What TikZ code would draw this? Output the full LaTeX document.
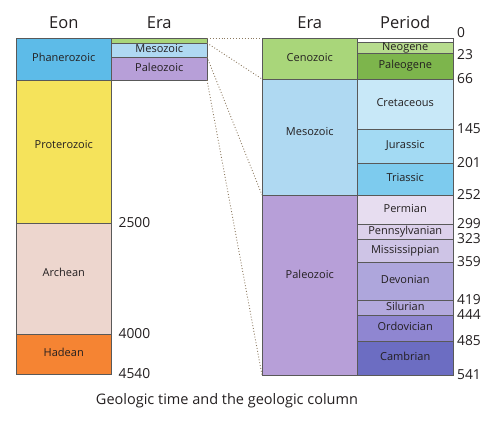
\documentclass[tikz,border=0pt]{standalone}
\usepackage{fontspec}
\setmainfont{Open Sans}
\usepackage{xcolor}
\usepackage{tikz}
\usetikzlibrary{positioning}

\definecolor{cPhan}{HTML}{5DBBE8}
\definecolor{cProt}{HTML}{F5E35B}
\definecolor{cArch}{HTML}{EDD6CE}
\definecolor{cHade}{HTML}{F58433}
\definecolor{cCeno}{HTML}{A9D67A}
\definecolor{cMeso}{HTML}{AFD9F2}
\definecolor{cPale}{HTML}{B79FD8}
\definecolor{cNeog}{HTML}{B7DC8E}
\definecolor{cPalg}{HTML}{7DB54C}
\definecolor{cCret}{HTML}{C8E8F8}
\definecolor{cJura}{HTML}{A3DAF3}
\definecolor{cTria}{HTML}{7DCBEE}
\definecolor{cPerm}{HTML}{E7DDF0}
\definecolor{cPenn}{HTML}{DCD0EB}
\definecolor{cMiss}{HTML}{CEC4E6}
\definecolor{cDevo}{HTML}{AEA6DC}
\definecolor{cSilu}{HTML}{B3A9DD}
\definecolor{cOrdo}{HTML}{8F86D1}
\definecolor{cCamb}{HTML}{6C6DC2}
\definecolor{cDots}{HTML}{8C7A60}
\definecolor{cText}{HTML}{231F20}

\begin{document}
\begin{tikzpicture}[x=1pt,y=-1pt,text=cText,
  font=\fontsize{11}{12}\selectfont,
  box/.style={draw=black!65,line width=0.8pt,inner sep=0pt,outer sep=0pt,
    minimum width=95.5pt,text height=7pt,text depth=2pt},
  thin/.style={text height=0pt,text depth=0pt},
  raised/.style={text depth=#1},
  hd/.style={font=\fontsize{16.5}{18}\selectfont},
  num/.style={font=\fontsize{13.8}{15}\selectfont,anchor=west,inner sep=0pt,xshift=4pt},
  dots/.style={draw=cDots,dotted,line width=0.9pt}]
\useasboundingbox (0,0) rectangle (494,421);

% eons
\node[box,fill=cPhan,minimum height=42pt,anchor=north west] (eonPh) at (16,38) {Phanerozoic};
\node[box,raised=13pt,fill=cProt,minimum height=143pt,below=0pt of eonPh] (eonPr) {Proterozoic};
\node[box,raised=11pt,fill=cArch,minimum height=111pt,below=0pt of eonPr] (eonAr) {Archean};
\node[box,fill=cHade,minimum height=40pt,below=0pt of eonAr] (eonHa) {Hadean};

% eras of the Phanerozoic
\node[box,thin,fill=cCeno,minimum height=5pt,anchor=north west] (eraCe) at (eonPh.north east) {};
\node[box,fill=cMeso,minimum height=14pt,below=0pt of eraCe] (eraMe) {Mesozoic};
\node[box,fill=cPale,minimum height=23pt,below=0pt of eraMe] (eraPa) {Paleozoic};

% enlarged column
\node[box,fill=cCeno,minimum height=41pt,anchor=north west] (erCe) at (262,38) {Cenozoic};
\node[box,raised=10pt,fill=cMeso,minimum height=116pt,below=0pt of erCe] (erMe) {Mesozoic};
\node[box,raised=20pt,fill=cPale,minimum height=180pt,below=0pt of erMe] (erPa) {Paleozoic};

\node[box,thin,fill=white,minimum height=4pt,anchor=north west] (pdQt) at (erCe.north east) {};
\node[box,fill=cNeog,minimum height=11pt,below=0pt of pdQt] (pdNe) {Neogene};
\node[box,fill=cPalg,minimum height=26pt,below=0pt of pdNe] (pdPg) {Paleogene};
\node[box,fill=cCret,minimum height=50pt,below=0pt of pdPg] (pdCr) {Cretaceous};
\node[box,fill=cJura,minimum height=34pt,below=0pt of pdCr] (pdJu) {Jurassic};
\node[box,fill=cTria,minimum height=32pt,below=0pt of pdJu] (pdTr) {Triassic};
\node[box,fill=cPerm,minimum height=29pt,below=0pt of pdTr] (pdPe) {Permian};
\node[box,fill=cPenn,minimum height=15pt,below=0pt of pdPe] (pdPn) {Pennsylvanian};
\node[box,fill=cMiss,minimum height=23pt,below=0pt of pdPn] (pdMi) {Mississippian};
\node[box,fill=cDevo,minimum height=38pt,below=0pt of pdMi] (pdDe) {Devonian};
\node[box,fill=cSilu,minimum height=15pt,below=0pt of pdDe] (pdSi) {Silurian};
\node[box,fill=cOrdo,minimum height=26pt,below=0pt of pdSi] (pdOr) {Ordovician};
\node[box,fill=cCamb,minimum height=34pt,below=0pt of pdOr] (pdCa) {Cambrian};

% headers
\node[hd,above=6pt of eonPh] (hdEon) {Eon};
\node[hd,above=6pt of eraCe] (hdEra) {Era};
\node[hd,above=6pt of erCe] (hdEra2) {Era};
\node[hd,above=6pt of pdQt] (hdPer) {Period};

% ages
\node[num,xshift=3pt] (aPr) at (eonPr.south east) {2500};
\node[num,xshift=3pt] (aAr) at (eonAr.south east) {4000};
\node[num,xshift=3pt] (aHa) at (eonHa.south east) {4540};
\node[num,yshift=5pt] (a0) at (pdQt.north east) {0};
\node[num,yshift=-2pt] (aNe) at (pdNe.south east) {23};
\node[num] (aPg) at (pdPg.south east) {66};
\node[num] (aCr) at (pdCr.south east) {145};
\node[num] (aJu) at (pdJu.south east) {201};
\node[num] (aTr) at (pdTr.south east) {252};
\node[num] (aPe) at (pdPe.south east) {299};
\node[num] (aPn) at (pdPn.south east) {323};
\node[num] (aMi) at (pdMi.south east) {359};
\node[num] (aDe) at (pdDe.south east) {419};
\node[num] (aSi) at (pdSi.south east) {444};
\node[num] (aOr) at (pdOr.south east) {485};
\node[num] (aCa) at (pdCa.south east) {541};

% zoom lines
\draw[dots] (eraCe.north east) -- (erCe.north west);
\draw[dots] (eraCe.south east) -- (erCe.south west);
\draw[dots] (eraMe.south east) -- (erMe.south west);
\draw[dots] (eraPa.south east) -- (erPa.south west);

\node[font=\fontsize{14.5}{16}\selectfont] (capt) at (227,401) {Geologic time and the geologic column};
\end{tikzpicture}
\end{document}
